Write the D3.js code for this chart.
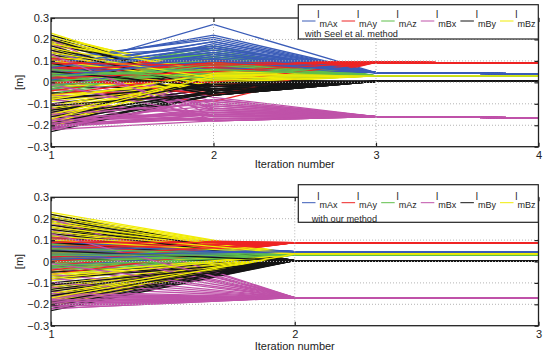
<!DOCTYPE html>
<html>
<head>
<meta charset="utf-8">
<script src="https://cdn.jsdelivr.net/npm/d3@7"></script>
<style>
  body { margin: 0; background: #fff; }
  svg { display: block; font-family: "Liberation Sans", Arial, sans-serif; }
  .legend text { opacity: 0.99; }
</style>
</head>
<body>
<svg id="chart" width="549" height="358"></svg>
<script>
const seriesNames = ["mAx", "mAy", "mAz", "mBx", "mBy", "mBz"];
const seriesColors = ["#3a5cb8", "#ee2424", "#5fbf4b", "#bf52a9", "#151515", "#f1ec05"];

const yTicks = [-0.3, -0.2, -0.1, 0, 0.1, 0.2, 0.3];
const yTickLabels = ["\u22120.3", "\u22120.2", "\u22120.1", "0", "0.1", "0.2", "0.3"];
const seelIterations = [1, 2, 3, 4];
const oursIterations = [1, 2, 3];

// initial guesses (iteration 1), shared by both methods
const startMAx = [0.05, 0.03, 0.07, 0.02, 0.09, 0.04, -0.01, 0.06, 0.11, 0.03, 0.05, 0.08, 0.01, 0.04, 0.06, 0.10, -0.03, 0.05, 0.02, 0.07, 0.04, 0.12, 0.00, 0.06, 0.03, 0.08, 0.05, -0.02, 0.09, 0.04, 0.06, 0.02, 0.07, 0.05, 0.01, 0.03];
const startMAy = [0.08, -0.02, 0.05, 0.10, 0.02, -0.05, 0.07, 0.04, 0.00, 0.09, -0.03, 0.06, 0.03, 0.08, -0.01, 0.05, 0.11, 0.02, 0.07, -0.04, 0.04, 0.09, 0.01, 0.06, -0.02, 0.08, 0.03, 0.05, 0.10, -0.06, 0.04, 0.07, 0.00, 0.06, 0.02, 0.09];
const startMAz = [0.02, 0.06, -0.03, 0.04, 0.00, 0.08, 0.03, -0.05, 0.05, 0.01, 0.07, -0.02, 0.04, 0.02, 0.06, -0.04, 0.03, 0.09, 0.00, 0.05, -0.01, 0.04, 0.07, 0.02, -0.03, 0.06, 0.01, 0.03, -0.06, 0.05, 0.08, 0.00, 0.04, -0.02, 0.06, 0.03];
const startMBx = [-0.20, -0.17, 0.12, -0.21, -0.15, 0.05, -0.19, -0.08, -0.22, 0.18, -0.16, -0.03, -0.20, -0.12, 0.09, -0.18, -0.21, 0.15, -0.14, -0.19, 0.02, -0.17, -0.22, -0.06, 0.20, -0.18, -0.10, -0.20, 0.07, -0.16, -0.21, -0.01, -0.19, 0.13, -0.15, -0.18];
const startMBy = [0.21, -0.22, 0.14, -0.18, 0.08, -0.12, 0.18, -0.07, 0.03, -0.20, 0.12, -0.15, 0.22, -0.02, 0.16, -0.23, 0.06, -0.10, 0.19, -0.17, 0.10, -0.05, 0.13, -0.21, 0.01, -0.13, 0.17, -0.08, 0.20, -0.19, 0.09, -0.14, 0.15, -0.11, 0.05, -0.16];
const startMBz = [0.22, -0.20, 0.17, -0.14, 0.11, -0.09, 0.20, -0.04, 0.06, -0.18, 0.15, -0.12, 0.23, 0.00, 0.13, -0.21, 0.09, -0.07, 0.19, -0.16, 0.03, -0.11, 0.21, -0.13, 0.08, -0.02, 0.16, -0.19, 0.12, -0.06, 0.18, -0.15, 0.10, -0.08, 0.14, -0.17];

// Seel et al. method, iteration 2
const seelIter2MAx = [0.27, 0.14, 0.19, 0.09, 0.22, 0.12, 0.16, 0.07, 0.20, 0.11, 0.15, 0.08, 0.18, 0.13, 0.10, 0.21, 0.06, 0.17, 0.12, 0.14, 0.09, 0.16, 0.11, 0.19, 0.13, 0.08, 0.15, 0.10, 0.17, 0.12, 0.14, 0.07, 0.16, 0.11, 0.13, 0.10];
const seelIter2MAy = [0.08, 0.10, 0.06, 0.09, 0.05, -0.04, 0.07, 0.09, 0.03, 0.08, -0.09, 0.06, 0.10, 0.04, 0.07, 0.02, 0.09, 0.08, -0.02, 0.06, 0.09, 0.05, 0.08, 0.01, 0.07, 0.10, -0.06, 0.09, 0.06, 0.04, 0.08, 0.07, 0.00, 0.09, 0.05, 0.08];
const seelIter2MAz = [0.17, 0.13, 0.05, 0.11, 0.02, 0.08, 0.14, 0.04, 0.09, 0.01, 0.12, 0.06, 0.03, 0.10, 0.15, 0.07, 0.00, 0.09, 0.05, 0.11, 0.02, 0.08, 0.13, 0.04, 0.06, 0.10, 0.03, 0.07, 0.12, 0.01, 0.05, 0.09, 0.04, 0.08, 0.02, 0.06];
const seelIter2MBx = [-0.12, -0.17, -0.09, -0.15, -0.18, -0.10, -0.14, -0.16, -0.08, -0.13, -0.17, -0.11, -0.15, -0.18, -0.07, -0.14, -0.16, -0.12, -0.10, -0.17, -0.13, -0.15, -0.18, -0.09, -0.16, -0.11, -0.14, -0.17, -0.12, -0.15, -0.08, -0.16, -0.13, -0.18, -0.10, -0.14];
const seelIter2MBy = [-0.01, -0.04, 0.00, -0.06, -0.02, -0.05, 0.01, -0.03, -0.04, -0.06, -0.01, -0.05, 0.00, -0.03, -0.02, -0.06, -0.04, -0.01, 0.01, -0.05, -0.03, -0.02, -0.04, -0.06, 0.00, -0.03, -0.05, -0.01, -0.02, -0.04, -0.06, 0.00, -0.03, -0.05, -0.02, -0.04];
const seelIter2MBz = [0.03, 0.01, 0.05, 0.02, 0.04, 0.00, 0.03, 0.05, 0.01, 0.04, 0.02, 0.03, -0.01, 0.04, 0.02, 0.05, 0.03, 0.01, 0.04, 0.02, 0.00, 0.03, 0.05, 0.02, 0.04, 0.01, 0.03, 0.02, 0.04, 0.00, 0.05, 0.03, 0.01, 0.04, 0.02, 0.03];

// converged values, order mAx mAy mAz mBx mBy mBz
const seelIter3 = [0.045, 0.093, 0.030, -0.160, 0.005, 0.030];
const seelIter4 = [0.040, 0.090, 0.030, -0.165, 0.005, 0.030];
const oursFinal = [0.046, 0.088, 0.030, -0.169, 0.004, 0.035];

const startValues = [startMAx, startMAy, startMAz, startMBx, startMBy, startMBz];
const seelIter2 = [seelIter2MAx, seelIter2MAy, seelIter2MAz, seelIter2MBx, seelIter2MBy, seelIter2MBz];

const left = 51, right = 538.5;
const svg = d3.select("#chart");

const panels = [
  {
    top: 18, bottom: 146.7, iterations: seelIterations, labelY: 168,
    legend: { top: 4.7, bottom: 39, lineY: 21, lBase: 18.3, subBase: 26.7, noteX: 305, noteBase: 36.5 },
    note: "with Seel et al. method",
    values: (s, i) => [startValues[s][i], seelIter2[s][i], seelIter3[s], seelIter4[s]]
  },
  {
    top: 197.3, bottom: 325.7, iterations: oursIterations, labelY: 350,
    legend: { top: 184.7, bottom: 222.3, lineY: 202.7, lBase: 200, subBase: 208.3, noteX: 311.7, noteBase: 221.8 },
    note: "with our method",
    values: (s, i) => [startValues[s][i], oursFinal[s], oursFinal[s]]
  }
];

panels.forEach((p, k) => {
  const x = d3.scaleLinear()
    .domain(d3.extent(p.iterations))
    .range([left, right]);
  const y = d3.scaleLinear()
    .domain([-0.3, 0.3])
    .range([p.bottom, p.top]);

  const g = svg.append("g");

  svg.append("clipPath").attr("id", "clip" + k)
    .append("rect")
    .attr("x", left).attr("y", p.top)
    .attr("width", right - left).attr("height", p.bottom - p.top);

  // one line per trial and parameter, interleaved like a loop over trials
  const lines = [];
  startMAx.forEach((_, i) => {
    seriesNames.forEach((_, s) => {
      const v = p.values(s, i);
      lines.push({ s: s, pts: p.iterations.map((it, j) => [it, v[j]]) });
    });
  });

  const line = d3.line().x(d => x(d[0])).y(d => y(d[1]));

  g.append("g")
    .attr("clip-path", `url(#clip${k})`)
    .selectAll("path")
    .data(lines)
    .join("path")
    .attr("d", d => line(d.pts))
    .attr("fill", "none")
    .attr("stroke", d => seriesColors[d.s])
    .attr("stroke-width", 1.3);

  // dotted grid on top of the data
  const grid = g.append("g")
    .attr("stroke", "#b4b4b4")
    .attr("stroke-width", 1)
    .attr("stroke-dasharray", "1,2");
  grid.selectAll(".gy")
    .data(yTicks.slice(1, -1))
    .join("line")
    .attr("x1", left).attr("x2", right)
    .attr("y1", d => y(d)).attr("y2", d => y(d));
  grid.selectAll(".gx")
    .data(p.iterations.slice(1, -1))
    .join("line")
    .attr("x1", d => x(d)).attr("x2", d => x(d))
    .attr("y1", p.top).attr("y2", p.bottom);

  // axes with inward ticks
  const yAxis = d3.axisLeft(y)
    .tickValues(yTicks)
    .tickFormat((d, i) => yTickLabels[i])
    .tickSizeInner(-4).tickSizeOuter(0).tickPadding(2);
  const xAxis = d3.axisBottom(x)
    .tickValues(p.iterations)
    .tickFormat(d3.format("d"))
    .tickSizeInner(-4).tickSizeOuter(0).tickPadding(5);

  [
    g.append("g").attr("transform", `translate(${left},0)`).call(yAxis),
    g.append("g").attr("transform", `translate(0,${p.bottom})`).call(xAxis),
    g.append("g").attr("transform", `translate(${right},0)`)
      .call(d3.axisRight(y).tickValues(yTicks).tickFormat("").tickSizeInner(-4).tickSizeOuter(0)),
    g.append("g").attr("transform", `translate(0,${p.top})`)
      .call(d3.axisTop(x).tickValues(p.iterations).tickFormat("").tickSizeInner(-4).tickSizeOuter(0))
  ].forEach(a => {
    a.selectAll(".domain").remove();
    a.selectAll("line").attr("stroke", "#222").attr("stroke-width", 1.2);
    a.selectAll("text").attr("font-size", 11).attr("fill", "#222")
      .attr("font-family", "'Liberation Sans', Arial, sans-serif");
  });

  g.append("rect")
    .attr("x", left).attr("y", p.top)
    .attr("width", right - left).attr("height", p.bottom - p.top)
    .attr("fill", "none").attr("stroke", "#222").attr("stroke-width", 1.3);

  g.append("text")
    .attr("x", (left + right) / 2).attr("y", p.labelY)
    .attr("text-anchor", "middle").attr("font-size", 11).attr("fill", "#222")
    .text("Iteration number");

  g.append("text")
    .attr("transform", `translate(23,${(p.top + p.bottom) / 2}) rotate(-90)`)
    .attr("text-anchor", "middle").attr("font-size", 11).attr("fill", "#222")
    .text("[m]");

  // legend
  const L = p.legend;
  const lg = g.append("g").attr("class", "legend");
  lg.append("rect")
    .attr("x", 298.3).attr("y", L.top)
    .attr("width", 538.3 - 298.3).attr("height", L.bottom - L.top)
    .attr("fill", "#fff");
  const entry = lg.selectAll(".entry")
    .data(seriesNames)
    .join("g")
    .attr("transform", (d, i) => `translate(${302 + i * 39.6},0)`);
  entry.append("line")
    .attr("x1", 0).attr("x2", 13.5)
    .attr("y1", L.lineY).attr("y2", L.lineY)
    .attr("stroke", (d, i) => seriesColors[i]).attr("stroke-width", 1);
  entry.append("text")
    .attr("x", 15.3).attr("y", L.lBase)
    .attr("font-size", 10).attr("fill", "#222")
    .text("l");
  entry.append("text")
    .attr("x", 17.5).attr("y", L.subBase)
    .attr("font-size", 9).attr("fill", "#222")
    .text(d => d);
  lg.append("text")
    .attr("x", L.noteX).attr("y", L.noteBase)
    .attr("font-size", 9.2).attr("fill", "#222")
    .text(p.note);
  lg.append("rect")
    .attr("x", 298.3).attr("y", L.top)
    .attr("width", 538.3 - 298.3).attr("height", L.bottom - L.top)
    .attr("fill", "none").attr("stroke", "#222").attr("stroke-width", 1.2);
});
</script>
</body>
</html>
